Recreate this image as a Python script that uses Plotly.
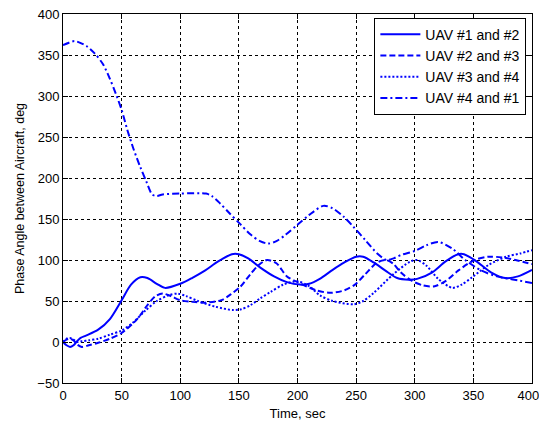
import plotly.graph_objects as go

# ---- data ----
t12 = [0, 3, 6, 9, 12, 15, 20, 30, 40, 50, 58, 66, 72, 80, 87, 100, 110, 121, 132, 144, 150, 158, 168, 180,
       191, 202, 210, 219, 230, 240, 250, 256, 265, 275, 285, 295, 302, 315, 326, 337, 342, 352, 365, 377, 388, 400]
v12 = [0, -4, -6, -4, 1, 5, 8, 15, 28, 51, 70, 79, 78, 71, 66, 71, 78, 87, 98, 107, 107, 102, 91, 80,
       73, 70, 71, 77, 88, 97, 104, 104, 97, 87, 78, 76, 77, 85, 98, 107, 107, 99, 85, 78, 80, 88]

t23 = [0, 3, 6, 9, 12, 16, 22, 30, 40, 50, 60, 65, 72, 79, 85, 92, 100, 110, 121, 135, 143, 151, 160, 167, 174,
       182, 191, 200, 216, 228, 240, 249, 258, 268, 276, 282, 288, 297, 307, 317, 327, 337, 351, 363, 375, 386, 400]
v23 = [0, 3, 4, 2, -3, -6, -4, -1, 4, 11, 23, 31, 45, 56, 59, 56, 51, 49, 48, 51, 58, 67, 83, 94, 100,
       96, 80, 73, 63, 60, 63, 70, 83, 97, 100, 95, 85, 75, 69, 68, 75, 87, 100, 104, 103, 100, 95]

t34 = [0, 3, 6, 9, 12, 16, 22, 30, 40, 50, 60, 70, 80, 90, 98, 105, 115, 130, 145, 152, 160, 168, 177, 188,
       200, 210, 219, 230, 248, 256, 265, 282, 296, 302, 310, 320, 332, 340, 349, 363, 378, 390, 400]
v34 = [0, 4, 5, 3, 0, 1, 2, 4, 9, 14, 24, 38, 50, 57, 59, 56, 50, 43, 39, 40, 45, 53, 61, 70,
       74, 68, 57, 50, 46, 50, 60, 83, 98, 100, 93, 77, 66, 70, 79, 94, 104, 108, 112]

t41 = [0, 5, 10, 20, 27, 34, 40, 45, 50, 55, 60, 66, 71, 76, 80, 85, 100, 122, 127, 134, 142, 151, 160, 168,
       175, 182, 190, 200, 210, 222, 230, 240, 248, 258, 268, 276, 282, 288, 300, 310, 320, 332, 343, 357, 370, 385, 400]
v41 = [362, 365, 367, 361, 352, 339, 321, 303, 283, 258, 236, 213, 196, 180, 178, 180, 181, 181, 178, 169, 157, 144, 131, 123,
       120, 123, 131, 143, 155, 166, 163, 152, 140, 124, 108, 100, 102, 106, 111, 118, 122, 114, 100, 87, 80, 76, 72]

x_ticks = [0, 50, 100, 150, 200, 250, 300, 350, 400]
x_ticktext = ["0", "50", "100", "150", "200", "250", "300", "350", "400\u00a0\u00a0"]
y_ticks = [-50, 0, 50, 100, 150, 200, 250, 300, 350, 400]

names = ["UAV #1 and #2", "UAV #2 and #3", "UAV #3 and #4", "UAV #4 and #1"]
dashes = ["solid", "6px,3px", "2px,2px", "7px,3px,2px,3px"]

BLUE = "#0000FF"
FONT = "Liberation Sans, Arial, Helvetica, sans-serif"

fig = go.Figure()
for name, tt, vv, dsh in zip(names, [t12, t23, t34, t41], [v12, v23, v34, v41], dashes):
    fig.add_trace(go.Scatter(x=tt, y=vv, mode="lines", name=name,
                             line=dict(color=BLUE, width=2, dash=dsh, shape="spline", smoothing=0.8)))

axis_common = dict(
    showline=True, linecolor="black", linewidth=1, mirror="allticks",
    ticks="inside", ticklen=5, tickcolor="black", tickwidth=1,
    showgrid=True, gridcolor="black", gridwidth=1, griddash="3px,3px",
    zeroline=False, tickfont=dict(family=FONT, size=13, color="black"),
    ticklabeloverflow="allow", automargin=False,
)

fig.update_xaxes(range=[0, 400], tickvals=x_ticks, ticktext=x_ticktext,
                 title=dict(text="Time, sec", font=dict(family=FONT, size=13, color="black"), standoff=7),
                 **axis_common)
fig.update_yaxes(range=[-50, 400], tickvals=y_ticks,
                 title=dict(text="Phase Angle between Aircraft, deg",
                            font=dict(family=FONT, size=12.5, color="black"), standoff=9),
                 **axis_common)

fig.update_layout(
    width=539, height=425,
    margin=dict(l=63, r=7, t=14, b=42),
    paper_bgcolor="white", plot_bgcolor="white",
    font=dict(family=FONT, size=13, color="black"),
    legend=dict(x=0.988, y=0.99, xanchor="right", yanchor="top",
                bgcolor="white", bordercolor="black", borderwidth=1,
                font=dict(family=FONT, size=14, color="black"),
                tracegroupgap=0, itemwidth=40),
    showlegend=True,
)

fig.write_html("out.html", config={"displayModeBar": False},
               post_script="document.body.style.margin='0';document.body.style.padding='0';")
